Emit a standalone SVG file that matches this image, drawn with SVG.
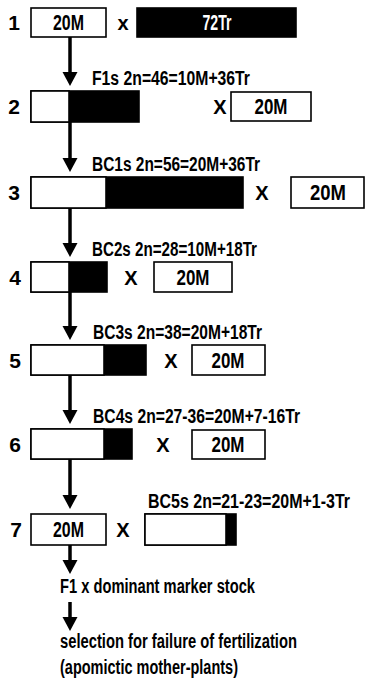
<svg xmlns="http://www.w3.org/2000/svg" width="367" height="681" viewBox="0 0 367 681">
<defs>
<style>
text{font-family:"Liberation Sans Narrow","Liberation Sans",Arial,sans-serif;font-weight:bold;fill:#000}
.num{font-size:21px;text-anchor:end}
.bt{font-size:22px;text-anchor:middle}
.wt{font-size:22px;text-anchor:middle;fill:#fff}
.x{font-size:20px;text-anchor:middle}
.lb{font-size:16.5px}
.w{fill:#fff;stroke:#000;stroke-width:1.6}
.k{fill:#000;stroke:#000;stroke-width:1.6}
.ln{stroke:#000;stroke-width:3.5;fill:none}
</style>
<marker id="ah" markerUnits="userSpaceOnUse" markerWidth="14" markerHeight="16" refX="0" refY="8" orient="auto" viewBox="0 0 14 16">
<path d="M0,0.5 L14,8 L0,15.5 Z" fill="#000"/>
</marker>
</defs>

<g id="row1">
<text class="num" x="20" y="30">1</text>
<rect class="w" x="31" y="8" width="75" height="29"/>
<text class="bt" x="68.5" y="30" textLength="31" lengthAdjust="spacingAndGlyphs">20M</text>
<text class="x" x="123" y="30">x</text>
<rect class="k" x="137" y="8" width="159" height="29"/>
<text class="wt" x="217" y="30" textLength="29" lengthAdjust="spacingAndGlyphs">72Tr</text>
</g>

<g id="row2">
<text class="lb" transform="translate(92,85) scale(1,1.2)" textLength="158" lengthAdjust="spacingAndGlyphs">F1s 2n=46=10M+36Tr</text>
<text class="num" x="20" y="114">2</text>
<rect class="k" x="31" y="91" width="108" height="31"/>
<rect class="w" x="31" y="91" width="38" height="31"/>
<text class="x" x="220" y="114">X</text>
<rect class="w" x="231" y="92" width="80" height="29"/>
<text class="bt" x="271" y="114" textLength="33" lengthAdjust="spacingAndGlyphs">20M</text>
</g>

<g id="row3">
<text class="lb" transform="translate(92,171) scale(1,1.2)" textLength="168" lengthAdjust="spacingAndGlyphs">BC1s 2n=56=20M+36Tr</text>
<text class="num" x="20" y="200">3</text>
<rect class="k" x="31" y="177" width="212" height="31"/>
<rect class="w" x="31" y="177" width="75" height="31"/>
<text class="x" x="262" y="200">X</text>
<rect class="w" x="291" y="177" width="73" height="31"/>
<text class="bt" x="328" y="200" textLength="36" lengthAdjust="spacingAndGlyphs">20M</text>
</g>

<g id="row4">
<text class="lb" transform="translate(92,256) scale(1,1.2)" textLength="165" lengthAdjust="spacingAndGlyphs">BC2s 2n=28=10M+18Tr</text>
<text class="num" x="21" y="285">4</text>
<rect class="k" x="31" y="262" width="76" height="30"/>
<rect class="w" x="31" y="262" width="38" height="30"/>
<text class="x" x="131" y="285">X</text>
<rect class="w" x="154" y="262" width="78" height="30"/>
<text class="bt" x="193" y="285" textLength="33" lengthAdjust="spacingAndGlyphs">20M</text>
</g>

<g id="row5">
<text class="lb" transform="translate(93,339) scale(1,1.2)" textLength="169" lengthAdjust="spacingAndGlyphs">BC3s 2n=38=20M+18Tr</text>
<text class="num" x="21" y="368">5</text>
<rect class="k" x="31" y="345" width="115" height="30"/>
<rect class="w" x="31" y="345" width="73" height="30"/>
<text class="x" x="171" y="368">X</text>
<rect class="w" x="192" y="345" width="73" height="30"/>
<text class="bt" x="228" y="368" textLength="33" lengthAdjust="spacingAndGlyphs">20M</text>
</g>

<g id="row6">
<text class="lb" transform="translate(93,423) scale(1,1.2)" textLength="207" lengthAdjust="spacingAndGlyphs">BC4s 2n=27-36=20M+7-16Tr</text>
<text class="num" x="21" y="452">6</text>
<rect class="k" x="31" y="429" width="101" height="30"/>
<rect class="w" x="31" y="429" width="73" height="30"/>
<text class="x" x="163" y="452">X</text>
<rect class="w" x="192" y="430" width="73" height="29"/>
<text class="bt" x="228" y="452" textLength="33" lengthAdjust="spacingAndGlyphs">20M</text>
</g>

<g id="row7">
<text class="lb" transform="translate(148,508) scale(1,1.2)" textLength="202" lengthAdjust="spacingAndGlyphs">BC5s 2n=21-23=20M+1-3Tr</text>
<text class="num" x="22" y="537">7</text>
<rect class="w" x="31" y="514" width="75" height="31"/>
<text class="bt" x="68.5" y="537" textLength="31" lengthAdjust="spacingAndGlyphs">20M</text>
<text class="x" x="123" y="537">X</text>
<rect class="k" x="145" y="514" width="91" height="31"/>
<rect class="w" x="145" y="514" width="81" height="31"/>
</g>

<g id="final">
<text class="lb" transform="translate(60,593) scale(1,1.2)" textLength="195" lengthAdjust="spacingAndGlyphs">F1 x dominant marker stock</text>
<text class="lb" transform="translate(60,648) scale(1,1.2)" textLength="237" lengthAdjust="spacingAndGlyphs">selection for failure of fertilization</text>
<text class="lb" transform="translate(60,674) scale(1,1.2)" textLength="178" lengthAdjust="spacingAndGlyphs">(apomictic mother-plants)</text>
</g>

<g id="connectors">
<line class="ln" x1="70" y1="37" x2="70" y2="72" marker-end="url(#ah)"/>
<line class="ln" x1="70" y1="122" x2="70" y2="158" marker-end="url(#ah)"/>
<line class="ln" x1="70" y1="208" x2="70" y2="243" marker-end="url(#ah)"/>
<line class="ln" x1="70" y1="292" x2="70" y2="326" marker-end="url(#ah)"/>
<line class="ln" x1="70" y1="375" x2="70" y2="410" marker-end="url(#ah)"/>
<line class="ln" x1="70" y1="459" x2="70" y2="495" marker-end="url(#ah)"/>
<line class="ln" x1="70" y1="545" x2="70" y2="560" marker-end="url(#ah)"/>
<line class="ln" x1="70" y1="602" x2="70" y2="617" marker-end="url(#ah)"/>
</g>
</svg>
